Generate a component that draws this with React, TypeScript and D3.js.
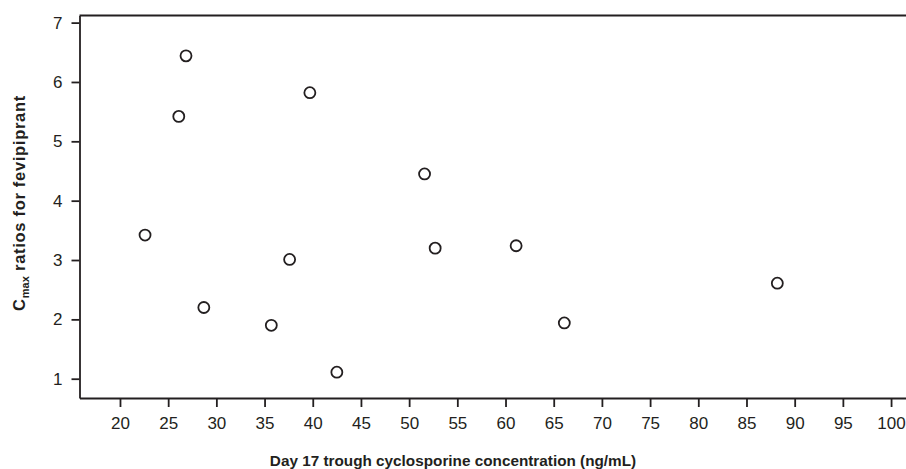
import React, { useEffect, useRef } from "react";
import * as d3 from "d3";

// Day 17 trough cyclosporine (ng/mL) vs Cmax ratio
const troughConc = [22.6, 26.1, 26.85, 28.7, 35.7, 37.6, 39.7, 42.5, 51.6, 52.7, 61.1, 66.1, 88.2];
const cmaxRatio = [3.42, 5.42, 6.44, 2.2, 1.9, 3.01, 5.82, 1.11, 4.45, 3.2, 3.24, 1.94, 2.61];

const xTicks = [20, 25, 30, 35, 40, 45, 50, 55, 60, 65, 70, 75, 80, 85, 90, 95, 100];
const yTicks = [1, 2, 3, 4, 5, 6, 7];

const W = 906;
const H = 469;
const margin = { top: 15.5, right: 0, bottom: 71, left: 79.5 };
const ink = "#231f20";
const font = "Liberation Sans, Arial, sans-serif";

export default function App() {
    const svgRef = useRef<SVGSVGElement>(null);

    useEffect(() => {
        const svg = d3.select(svgRef.current);
        svg.selectAll("*").remove();

        const x = d3.scaleLinear()
            .domain([15.8, 101.55])
            .range([margin.left, W - margin.right]);
        const y = d3.scaleLinear()
            .domain([0.675, 7.12])
            .range([H - margin.bottom, margin.top]);

        const g = svg.append("g");

        // axes
        const xAxis = g.append("g")
            .attr("transform", `translate(0,${H - margin.bottom})`)
            .call(d3.axisBottom(x).tickValues(xTicks).tickSize(9).tickSizeOuter(0));
        const yAxis = g.append("g")
            .attr("transform", `translate(${margin.left},0)`)
            .call(d3.axisLeft(y).tickValues(yTicks).tickFormat(d3.format("d")).tickSize(8).tickPadding(9).tickSizeOuter(0));

        [xAxis, yAxis].forEach(a => {
            a.attr("font-size", 17).attr("font-family", font);
            a.select(".domain").attr("stroke", ink).attr("stroke-width", 1.8);
            a.selectAll(".tick line").attr("stroke", ink).attr("stroke-width", 1.8);
            a.selectAll(".tick text").attr("fill", ink);
        });
        xAxis.selectAll(".tick text").attr("dy", null).attr("y", 31);

        // top frame line
        g.append("line")
            .attr("x1", margin.left)
            .attr("x2", W)
            .attr("y1", margin.top)
            .attr("y2", margin.top)
            .attr("stroke", ink)
            .attr("stroke-width", 1.8);

        // points
        g.selectAll(".pt")
            .data(troughConc.map((c, i) => [c, cmaxRatio[i]]))
            .enter()
            .append("circle")
            .attr("class", "pt")
            .attr("cx", d => x(d[0]))
            .attr("cy", d => y(d[1]))
            .attr("r", 5.5)
            .attr("fill", "white")
            .attr("stroke", ink)
            .attr("stroke-width", 1.8);

        // x title
        svg.append("text")
            .attr("x", W / 2)
            .attr("y", 466)
            .attr("text-anchor", "middle")
            .attr("fill", ink)
            .style("font-family", font)
            .style("font-weight", "bold")
            .style("font-size", "15.3px")
            .text("Day 17 trough cyclosporine concentration (ng/mL)");

        // y title with subscript
        const yt = svg.append("text")
            .attr("transform", `translate(25,203) rotate(-90)`)
            .attr("text-anchor", "middle")
            .attr("fill", ink)
            .style("font-family", font)
            .style("font-weight", "bold")
            .style("font-size", "16.5px")
            .style("letter-spacing", "0.7px");
        yt.append("tspan").text("C");
        yt.append("tspan").attr("dy", 4).style("font-size", "11px").style("letter-spacing", "0px").text("max");
        yt.append("tspan").attr("dy", -4).text(" ratios for fevipiprant");
    }, []);

    return (
        <svg
            ref={svgRef}
            width={W}
            height={H}
            style={{ position: "absolute", left: 0, top: 0, background: "white" }}
        ></svg>
    );
}
